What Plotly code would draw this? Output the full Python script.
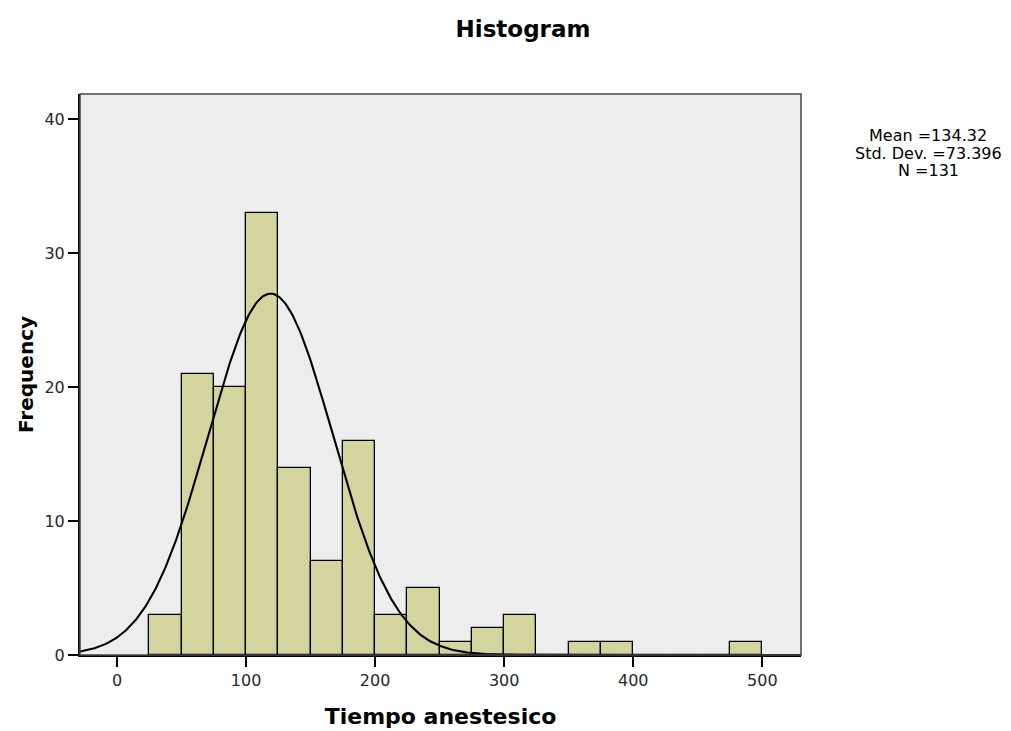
import numpy as np
import plotly.graph_objects as go

# Histogram data (bin width 25)
bin_starts = [25, 50, 75, 100, 125, 150, 175, 200, 225, 250, 275, 300, 325, 350, 375, 400, 425, 450, 475]
frequencies = [3, 21, 20, 33, 14, 7, 16, 3, 5, 1, 2, 3, 0, 1, 1, 0, 0, 0, 1]
bin_width = 25

# Normal curve as drawn
curve_mean = 119.0
curve_sd = 48.4
n_total = 131

stats_lines = ["Mean =134.32", "Std. Dev. =73.396", "N =131"]
x_ticks = [0, 100, 200, 300, 400, 500]
y_ticks = [0, 10, 20, 30, 40]

x_range = [-28.7, 530]
y_range = [0, 41.9]

centers = [s + bin_width / 2 for s in bin_starts]

fig = go.Figure()
fig.add_trace(go.Bar(
    x=centers, y=frequencies, width=[bin_width] * len(centers),
    marker=dict(color="rgb(212,212,158)", line=dict(color="black", width=1.3)),
    showlegend=False, hoverinfo="x+y",
))

xs = np.linspace(x_range[0], x_range[1], 600)
ys = n_total * bin_width / (curve_sd * np.sqrt(2 * np.pi)) * np.exp(-0.5 * ((xs - curve_mean) / curve_sd) ** 2)
fig.add_trace(go.Scatter(x=xs, y=ys, mode="lines", line=dict(color="black", width=2.1),
                         showlegend=False, hoverinfo="skip"))

L, R, T, B = 80, 801, 94, 655
W, H = 1011, 731

annotations = []
for i, line in enumerate(stats_lines):
    ypix = 136 + 17.5 * i
    annotations.append(dict(text=line, xref="paper", yref="paper",
                            x=(928 - L) / (R - L), y=(B - ypix) / (B - T),
                            xanchor="center", yanchor="middle", showarrow=False,
                            font=dict(size=16, family="DejaVu Sans")))

fig.update_layout(
    width=W, height=H,
    margin=dict(l=L, r=W - R, t=T, b=H - B, autoexpand=False),
    paper_bgcolor="white",
    plot_bgcolor="rgb(237,237,237)",
    font=dict(family="DejaVu Sans, Arial, sans-serif", color="black", size=16),
    title=dict(text="<b>Histogram</b>", x=523 / W, xanchor="center",
               y=1 - 29 / H, yanchor="middle", font=dict(size=23)),
    bargap=0,
    xaxis=dict(range=x_range, tickvals=x_ticks, ticks="outside", ticklen=10, tickwidth=1.5,
               tickcolor="black", showgrid=False, zeroline=False, automargin=False,
               tickfont=dict(size=16, color="rgb(40,40,40)"),
               showline=True, linecolor="black", linewidth=2, mirror=False,
               title=dict(text="<b>Tiempo anestesico</b>", font=dict(size=22), standoff=19)),
    yaxis=dict(range=y_range, tickvals=y_ticks, ticks="outside", ticklen=10, tickwidth=1.5,
               tickcolor="black", showgrid=False, zeroline=False, automargin=False,
               tickfont=dict(size=16, color="rgb(40,40,40)"),
               showline=True, linecolor="black", linewidth=2, mirror=False,
               title=dict(text="<b>Frequency</b>", font=dict(size=20), standoff=5)),
    shapes=[dict(type="rect", xref="paper", yref="paper", x0=0, y0=0, x1=1, y1=1,
                 line=dict(color="rgb(70,70,70)", width=1.5), fillcolor="rgba(0,0,0,0)")],
    annotations=annotations,
)

fig.write_html("out.html")
